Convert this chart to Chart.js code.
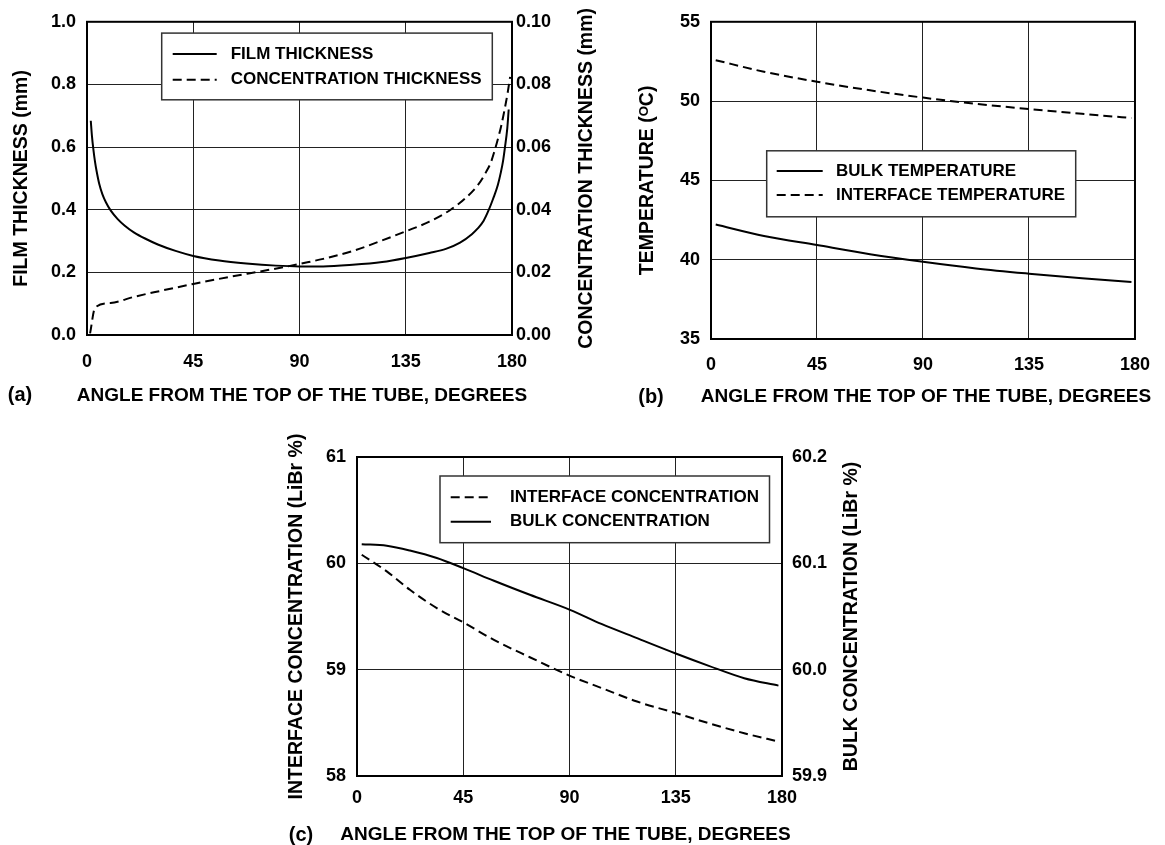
<!DOCTYPE html>
<html>
<head>
<meta charset="utf-8">
<script src="https://cdn.jsdelivr.net/npm/chart.js@4.4.1/dist/chart.umd.min.js"></script>
<style>
	html, body { margin: 0; padding: 0; background: #fff; }
	body { width: 1165px; height: 845px; position: relative; overflow: hidden; }
	canvas { position: absolute; }
</style>
</head>
<body>
<canvas id="chartA" width="600" height="420" style="left:0px;top:0px"></canvas>
<canvas id="chartB" width="565" height="420" style="left:600px;top:0px"></canvas>
<canvas id="chartC" width="630" height="415" style="left:270px;top:430px"></canvas>
<script>
'use strict'

// (a) film thickness (mm, left axis) and concentration thickness (mm, right axis)
const filmAngle = [1.6, 2.1, 2.7, 3.4, 4.1, 5.2, 6.5, 8, 10, 13, 16, 20, 25, 30, 37.5, 45, 56, 67.5, 80, 90,
	100, 112.5, 125, 135, 145, 152, 158, 163, 165.6, 168, 170.2, 172, 174, 175.3, 176.2, 177, 178, 178.6];
const filmThickness = [0.684, 0.635, 0.593, 0.553, 0.522, 0.482, 0.45, 0.424, 0.398, 0.37, 0.349, 0.327, 0.3065, 0.289, 0.2685, 0.2525, 0.238, 0.2285, 0.2215, 0.219,
	0.219, 0.224, 0.233, 0.246, 0.262, 0.275, 0.295, 0.322, 0.341, 0.365, 0.4, 0.435, 0.479, 0.52, 0.555, 0.598, 0.66, 0.72];
const concAngle = [1.3, 3.4, 10, 20, 30, 45, 60, 73.4, 85, 90, 100, 112.5, 125, 135, 145, 154, 160, 165.6, 169, 171,
	172.5, 174, 175.5, 177, 178.2, 179.2];
const concThickness = [0.0005, 0.0087, 0.0102, 0.0122, 0.0139, 0.0163, 0.0185, 0.0203, 0.0219, 0.0227, 0.0243, 0.0268, 0.0302, 0.0331, 0.0362, 0.040, 0.0435, 0.0479, 0.052, 0.055,
	0.0585, 0.0625, 0.067, 0.0725, 0.0775, 0.0824];

// (b) temperatures (oC)
const tempAngle = [2, 22.5, 45, 67.5, 90, 112.5, 135, 157.5, 178.5];
const interfaceTemp = [52.58, 51.85, 51.22, 50.68, 50.22, 49.83, 49.5, 49.2, 48.93];
const bulkTemp = [42.22, 41.5, 40.92, 40.35, 39.87, 39.45, 39.12, 38.83, 38.6];

// (c) concentrations (LiBr %)
const concAngleC = [2, 12.6, 22.4, 33.8, 45, 58, 73.2, 90.2, 103.5, 118.6, 135, 149, 164, 178.5];
const interfaceConc = [60.081, 59.924, 59.751, 59.579, 59.445, 59.28, 59.117, 58.942, 58.828, 58.70, 58.592, 58.496, 58.402, 58.324];
const bulkConc = [60.118, 60.1165, 60.112, 60.105, 60.0955, 60.0836, 60.0704, 60.0563, 60.043, 60.0296, 60.0152, 60.0036, 59.992, 59.985];

const angleTicks = [0, 45, 90, 135, 180];
const angleTitle = 'ANGLE FROM THE TOP OF THE TUBE, DEGREES';

const FONT = "'Liberation Sans', Arial, Helvetica, sans-serif";
const black = '#000';
const gridColor = '#222';
const tickFont = { family: FONT, size: 18, weight: 'bold' };
const yTitleFont = { family: FONT, size: 19.5, weight: 'bold', lineHeight: 1 };

function pts(xs, ys) {
	return xs.map((x, i) => ({ x: x, y: ys[i] }));
}

function line(label, xs, ys, axis, dashed) {
	return {
		label: label,
		data: pts(xs, ys),
		yAxisID: axis,
		borderColor: black,
		borderWidth: 2,
		borderDash: dashed ? [9, 5] : [],
		pointRadius: 0,
		fill: false,
		cubicInterpolationMode: 'monotone',
	};
}

function angleAxis(height, tickPad) {
	return {
		type: 'linear',
		min: angleTicks[0],
		max: angleTicks[angleTicks.length - 1],
		afterBuildTicks: (s) => { s.ticks = angleTicks.map((v) => ({ value: v })) },
		ticks: { padding: tickPad, maxRotation: 0, color: black, font: tickFont },
		grid: { color: gridColor, lineWidth: 1, drawTicks: false },
		border: { display: false },
		afterFit: (s) => { s.height = height },
	};
}

function valueAxis(pos, min, max, step, digits, width, tickPad, title, titlePad) {
	return {
		type: 'linear',
		position: pos,
		min: min,
		max: max,
		ticks: {
			stepSize: step,
			padding: tickPad,
			color: black,
			font: tickFont,
			callback: (v) => v.toFixed(digits),
		},
		grid: { color: gridColor, lineWidth: 1, drawTicks: false, drawOnChartArea: pos === 'left' },
		border: { display: false },
		title: {
			display: !!title,
			text: title || '',
			color: black,
			font: yTitleFont,
			padding: { top: titlePad || 0 },
		},
		afterFit: (s) => { s.width = width },
	};
}

// thick frame round the plot area
const frame = {
	id: 'frame',
	afterDatasetsDraw(chart) {
		const { ctx, chartArea: a } = chart;
		ctx.save();
		ctx.strokeStyle = black;
		ctx.lineWidth = 2;
		ctx.strokeRect(a.left, a.top, a.right - a.left, a.bottom - a.top);
		ctx.restore();
	},
};

// boxed legend inside the plot area
function legendBox(cfg) {
	return {
		id: 'legendBox',
		afterDatasetsDraw(chart) {
			const { ctx, chartArea: a } = chart;
			const x = a.left + cfg.x;
			const y = a.top + cfg.y;
			ctx.save();
			ctx.fillStyle = '#fff';
			ctx.fillRect(x, y, cfg.w, cfg.h);
			ctx.strokeStyle = '#333';
			ctx.lineWidth = 1.5;
			ctx.strokeRect(x, y, cfg.w, cfg.h);
			ctx.font = 'bold 17px ' + FONT;
			ctx.fillStyle = black;
			ctx.textBaseline = 'middle';
			cfg.order.forEach((di, i) => {
				const ds = chart.data.datasets[di];
				const ry = y + cfg.rows[i];
				ctx.beginPath();
				ctx.setLineDash(ds.borderDash);
				ctx.lineWidth = 2;
				ctx.strokeStyle = black;
				ctx.moveTo(x + cfg.line0, ry);
				ctx.lineTo(x + cfg.line1, ry);
				ctx.stroke();
				ctx.setLineDash([]);
				ctx.fillText(ds.label, x + cfg.text, ry);
			});
			ctx.restore();
		},
	};
}

// angle title, right-hand axis titles (read bottom to top) and panel letters
function extraText(items) {
	return {
		id: 'extraText',
		afterDraw(chart) {
			const { ctx, chartArea: a } = chart;
			ctx.save();
			ctx.fillStyle = black;
			ctx.textAlign = 'center';
			ctx.textBaseline = 'middle';
			items.forEach((t) => {
				ctx.save();
				ctx.font = 'bold ' + t.size + 'px ' + FONT;
				ctx.translate(t.x === undefined ? (a.left + a.right) / 2 + (t.dx || 0) : t.x,
					t.y === undefined ? (a.top + a.bottom) / 2 : t.y);
				if (t.vertical) ctx.rotate(-Math.PI / 2);
				ctx.fillText(t.text, 0, 0);
				ctx.restore();
			});
			ctx.restore();
		},
	};
}

const common = {
	responsive: false,
	animation: false,
	events: [],
	plugins: { legend: { display: false }, tooltip: { enabled: false } },
};

// (a)
new Chart(document.getElementById('chartA'), {
	type: 'line',
	data: {
		datasets: [
			line('FILM THICKNESS', filmAngle, filmThickness, 'y', false),
			line('CONCENTRATION THICKNESS', concAngle, concThickness, 'y2', true),
		],
	},
	options: Object.assign({}, common, {
		layout: { padding: { top: 17, left: 0, right: 0, bottom: 0 } },
		scales: {
			x: angleAxis(85, 16),
			y: valueAxis('left', 0, 1, 0.2, 1, 87, 11, 'FILM THICKNESS (mm)', 12.25),
			y2: valueAxis('right', 0, 0.1, 0.02, 2, 88, 4),
		},
	}),
	plugins: [
		frame,
		legendBox({ x: 74.7, y: 11.3, w: 330.6, h: 66.7, rows: [21, 46.7], line0: 11, line1: 55, text: 69, order: [0, 1] }),
		extraText([
			{ text: angleTitle, y: 395.5, dx: 2.5, size: 19 },
			{ text: 'CONCENTRATION THICKNESS (mm)', x: 587, vertical: true, size: 19.5 },
			{ text: '(a)', x: 20, y: 395, size: 20 },
		]),
	],
});

// (b)
new Chart(document.getElementById('chartB'), {
	type: 'line',
	data: {
		datasets: [
			line('BULK TEMPERATURE', tempAngle, bulkTemp, 'y', false),
			line('INTERFACE TEMPERATURE', tempAngle, interfaceTemp, 'y', true),
		],
	},
	options: Object.assign({}, common, {
		layout: { padding: { top: 20, left: 0, right: 29, bottom: 0 } },
		scales: {
			x: angleAxis(81, 15),
			y: valueAxis('left', 35, 55, 5, 0, 111, 11, 'TEMPERATURE (ᴼC)', 37.75),
		},
	}),
	plugins: [
		frame,
		legendBox({ x: 55.7, y: 129, w: 309, h: 66, rows: [20.3, 44.3], line0: 10, line1: 56, text: 69.3, order: [0, 1] }),
		extraText([
			{ text: angleTitle, y: 397, dx: 3, size: 19 },
			{ text: '(b)', x: 51, y: 397, size: 20 },
		]),
	],
});

// (c)
new Chart(document.getElementById('chartC'), {
	type: 'line',
	data: {
		datasets: [
			line('INTERFACE CONCENTRATION', concAngleC, interfaceConc, 'y', true),
			line('BULK CONCENTRATION', concAngleC, bulkConc, 'y2', false),
		],
	},
	options: Object.assign({}, common, {
		layout: { padding: { top: 27, left: 0, right: 0, bottom: 0 } },
		scales: {
			x: angleAxis(69, 11),
			y: valueAxis('left', 58, 61, 1, 0, 87, 11, 'INTERFACE CONCENTRATION (LiBr %)', 17.25),
			y2: valueAxis('right', 59.9, 60.2, 0.1, 1, 118, 10),
		},
	}),
	plugins: [
		frame,
		legendBox({ x: 83, y: 19, w: 329.5, h: 66.7, rows: [21.3, 45.7], line0: 10.7, line1: 51, text: 70, order: [0, 1] }),
		extraText([
			{ text: angleTitle, y: 405, dx: -4, size: 19 },
			{ text: 'BULK CONCENTRATION (LiBr %)', x: 582, vertical: true, size: 19.5 },
			{ text: '(c)', x: 31, y: 405, size: 20 },
		]),
	],
});
</script>
</body>
</html>
